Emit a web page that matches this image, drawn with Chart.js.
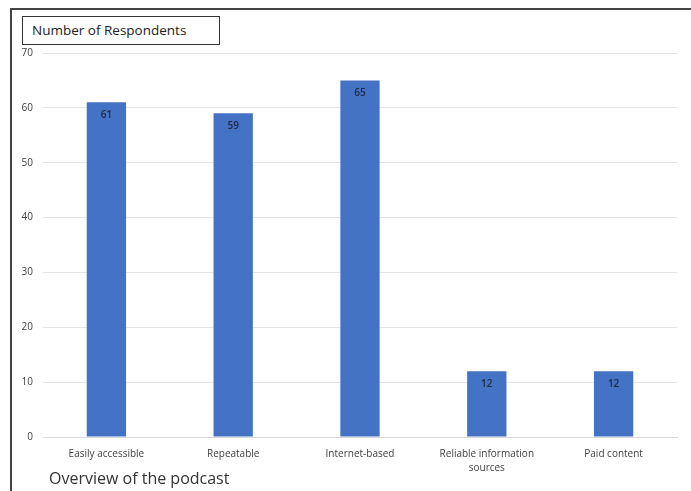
<!DOCTYPE html>
<html lang="en">
<head>
  <meta charset="UTF-8">
  <title>Overview of the podcast</title>
  <script src="https://cdn.jsdelivr.net/npm/chart.js"></script>
  <style>
    html, body { margin: 0; padding: 0; background: #fff; }
    #wrap { position: relative; width: 691px; height: 491px; overflow: hidden; font-family: "Open Sans", "Noto Sans", sans-serif; }
    #frame { position: absolute; left: 10px; top: 8px; width: 700px; height: 500px; border-left: 2px solid #444; border-top: 2px solid #444; box-sizing: border-box; }
    #yTitle { position: absolute; left: 22px; top: 16px; width: 198px; height: 29px; border: 1px solid #333; box-sizing: border-box; font-size: 13.5px; color: #222; padding-left: 9px; line-height: 27px; background: #fff; z-index: 2; }
    #xTitle { position: absolute; left: 49px; top: 467px; font-size: 16px; color: #333; z-index: 2; }
    #chart { position: absolute; left: 0; top: 0; }
  </style>
</head>
<body>
  <div id="wrap">
    <div id="frame"></div>
    <canvas id="chart" width="691" height="491"></canvas>
    <div id="yTitle">Number of Respondents</div>
    <div id="xTitle">Overview of the podcast</div>
  </div>
  <script>
    // chart data
    const categories = ['Easily accessible', 'Repeatable', 'Internet-based', ['Reliable information', 'sources'], 'Paid content'];
    const respondents = [61, 59, 65, 12, 12];
    const yTicks = [0, 10, 20, 30, 40, 50, 60, 70];

    // value labels just inside the top of each bar
    const barLabels = {
      id: 'barLabels',
      afterDatasetsDraw(chart) {
        const ctx = chart.ctx;
        const meta = chart.getDatasetMeta(0);
        ctx.save();
        ctx.font = '600 10px "Open Sans", sans-serif';
        ctx.fillStyle = '#1f2a44';
        ctx.textAlign = 'center';
        ctx.textBaseline = 'middle';
        meta.data.forEach((bar, i) => {
          ctx.fillText(String(respondents[i]), bar.x, bar.y + 13);
        });
        ctx.restore();
      }
    };

    new Chart(document.getElementById('chart'), {
      type: 'bar',
      data: {
        labels: categories,
        datasets: [{
          data: respondents,
          backgroundColor: '#4472C4',
          borderWidth: 0,
          barPercentage: 0.31,
          categoryPercentage: 1
        }]
      },
      options: {
        responsive: false,
        animation: false,
        layout: { padding: { left: 0, top: 53, right: 14, bottom: 0 } },
        plugins: { legend: { display: false }, tooltip: { enabled: false } },
        scales: {
          x: {
            grid: { display: false },
            border: { display: true, color: '#d9d9d9', width: 1 },
            ticks: {
              color: '#404040',
              font: { size: 10, family: '"Open Sans", sans-serif', lineHeight: 1.4 },
              padding: 2,
              maxRotation: 0,
              autoSkip: false
            },
            afterFit(s) { s.height = 54; }
          },
          y: {
            min: 0,
            max: 70,
            afterBuildTicks(s) { s.ticks = yTicks.map(v => ({ value: v })); },
            grid: { color: '#e4e4e4', drawTicks: false },
            border: { display: false },
            ticks: {
              color: '#404040',
              font: { size: 10, family: '"Open Sans", sans-serif' },
              padding: 10
            },
            afterFit(s) { s.width = 43; }
          }
        }
      },
      plugins: [barLabels]
    });
  </script>
</body>
</html>
